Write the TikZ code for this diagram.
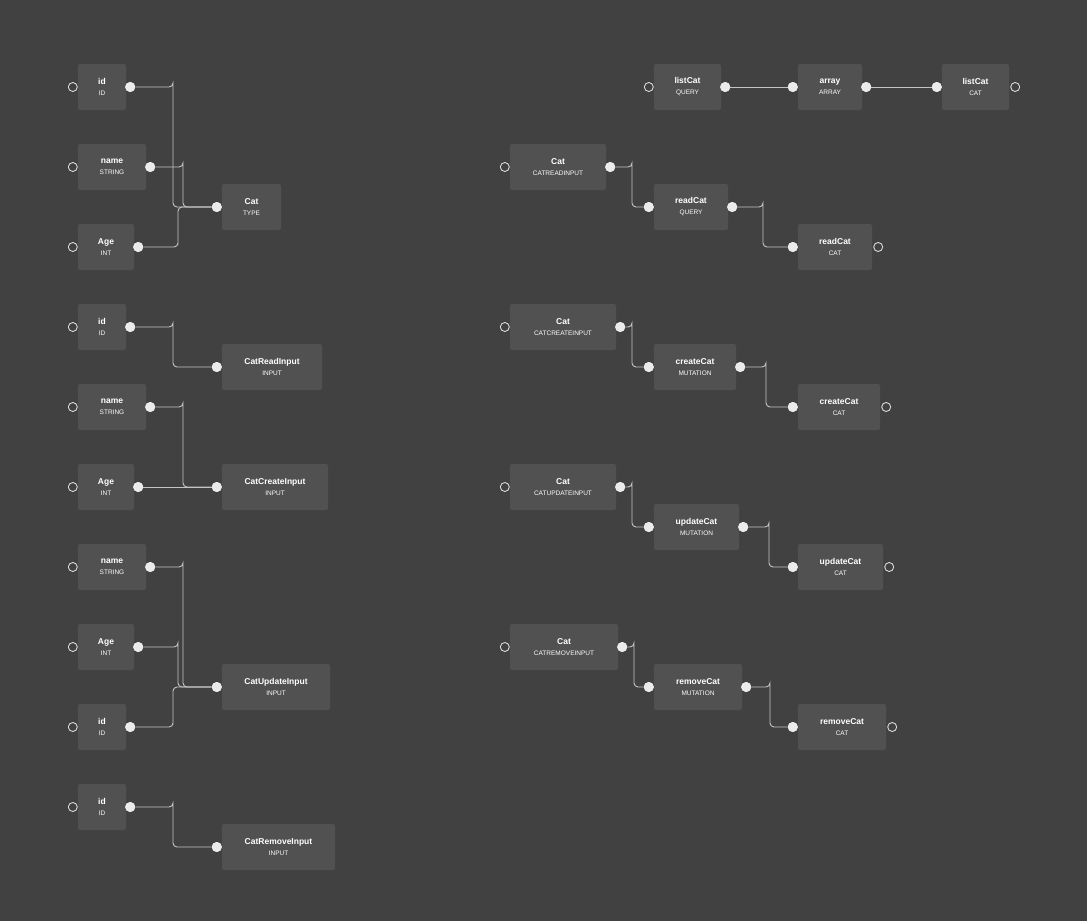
\documentclass[tikz,border=0pt]{standalone}
\usepackage{fontspec}
\setmainfont{Liberation Sans}
\usetikzlibrary{calc}
\definecolor{bg}{HTML}{424142}
\definecolor{bx}{HTML}{525152}
\definecolor{ln}{HTML}{C4C4C4}
\tikzset{
 cbox/.style={fill=bx,rounded corners=2pt,inner sep=0pt,minimum height=46pt,align=center,text=white},
 dot/.style={circle,fill=white!92!black,inner sep=0pt,minimum size=10pt},
 port/.style={circle,draw=white!85!black,line width=0.9pt,inner sep=0pt,minimum size=9pt},
 wire/.style={draw=ln,line width=0.9pt,rounded corners=4pt}
}
\newcommand\mkbox[6]{\node[cbox,minimum width={#3-#2}] (#1) at ({(#2+#3)/2},{#4+23}) {{\fontsize{8.5}{9}\selectfont\bfseries #5}\\[-1pt]{\fontsize{6.5}{7}\selectfont #6}};}
\newcommand\wirexy[3]{\draw[wire] (#1) -| (#3,0 |- #1) |- (#2);}
\begin{document}
\begin{tikzpicture}[x=1pt,y=-1pt]
\fill[bg] (0,0) rectangle (1087,921);
\useasboundingbox (0,0) rectangle (1087,921);
% left column
\mkbox{a1}{78}{126}{64}{id}{ID}
\mkbox{a2}{78}{146}{144}{name}{STRING}
\mkbox{a3}{78}{134}{224}{Age}{INT}
\mkbox{at}{222}{281}{184}{Cat}{TYPE}
\mkbox{b1}{78}{126}{304}{id}{ID}
\mkbox{bt}{222}{322}{344}{CatReadInput}{INPUT}
\mkbox{c1}{78}{146}{384}{name}{STRING}
\mkbox{c2}{78}{134}{464}{Age}{INT}
\mkbox{ct}{222}{328}{464}{CatCreateInput}{INPUT}
\mkbox{d1}{78}{146}{544}{name}{STRING}
\mkbox{d2}{78}{134}{624}{Age}{INT}
\mkbox{d3}{78}{126}{704}{id}{ID}
\mkbox{dt}{222}{330}{664}{CatUpdateInput}{INPUT}
\mkbox{e1}{78}{126}{784}{id}{ID}
\mkbox{et}{222}{335}{824}{CatRemoveInput}{INPUT}
% right
\mkbox{l1}{654}{721}{64}{listCat}{QUERY}
\mkbox{l2}{798}{862}{64}{array}{ARRAY}
\mkbox{l3}{942}{1009}{64}{listCat}{CAT}
\mkbox{r1}{510}{606}{144}{Cat}{CATREADINPUT}
\mkbox{r2}{654}{728}{184}{readCat}{QUERY}
\mkbox{r3}{798}{872}{224}{readCat}{CAT}
\mkbox{s1}{510}{616}{304}{Cat}{CATCREATEINPUT}
\mkbox{s2}{654}{736}{344}{createCat}{MUTATION}
\mkbox{s3}{798}{880}{384}{createCat}{CAT}
\mkbox{u1}{510}{616}{464}{Cat}{CATUPDATEINPUT}
\mkbox{u2}{654}{739}{504}{updateCat}{MUTATION}
\mkbox{u3}{798}{883}{544}{updateCat}{CAT}
\mkbox{v1}{510}{618}{624}{Cat}{CATREMOVEINPUT}
\mkbox{v2}{654}{742}{664}{removeCat}{MUTATION}
\mkbox{v3}{798}{886}{704}{removeCat}{CAT}
% open ports on left of source nodes
\foreach \n in {a1,a2,a3,b1,c1,c2,d1,d2,d3,e1,l1,r1,s1,u1,v1}
  \node[port] (\n-in) at ([xshift=-5pt]\n.west) {};
\foreach \n in {l3,r3,s3,u3,v3}
  \node[port] (\n-out) at ([xshift=6pt]\n.east) {};
% output dots
\foreach \n in {a1,a2,a3,b1,c1,c2,d1,d2,d3,e1,l1,l2,r1,r2,s1,s2,u1,u2,v1,v2}
  \node[dot] (\n-o) at ([xshift=4pt]\n.east) {};
% input dots
\foreach \n in {at,bt,ct,dt,et,l2,l3,r2,r3,s2,s3,u2,u3,v2,v3}
  \node[dot] (\n-i) at ([xshift=-5pt]\n.west) {};
% wires
\begin{scope}[on background layer/.style={}]
\wirexy{a1-o}{at-i}{173}
\wirexy{a2-o}{at-i}{183}
\wirexy{a3-o}{at-i}{178}
\wirexy{b1-o}{bt-i}{173}
\wirexy{c1-o}{ct-i}{183}
\draw[wire] (c2-o) -- (ct-i);
\wirexy{d1-o}{dt-i}{183}
\wirexy{d2-o}{dt-i}{178}
\wirexy{d3-o}{dt-i}{173}
\wirexy{e1-o}{et-i}{173}
\draw[wire] (l1-o) -- (l2-i);
\draw[wire] (l2-o) -- (l3-i);
\wirexy{r1-o}{r2-i}{632}
\wirexy{r2-o}{r3-i}{763}
\wirexy{s1-o}{s2-i}{632}
\wirexy{s2-o}{s3-i}{766}
\wirexy{u1-o}{u2-i}{632}
\wirexy{u2-o}{u3-i}{769}
\wirexy{v1-o}{v2-i}{634}
\wirexy{v2-o}{v3-i}{770}
\end{scope}
% redraw dots over wires
\foreach \n in {a1,a2,a3,b1,c1,c2,d1,d2,d3,e1,l1,l2,r1,r2,s1,s2,u1,u2,v1,v2}
  \node[dot] at (\n-o) {};
\foreach \n in {at,bt,ct,dt,et,l2,l3,r2,r3,s2,s3,u2,u3,v2,v3}
  \node[dot] at (\n-i) {};
\end{tikzpicture}
\end{document}
